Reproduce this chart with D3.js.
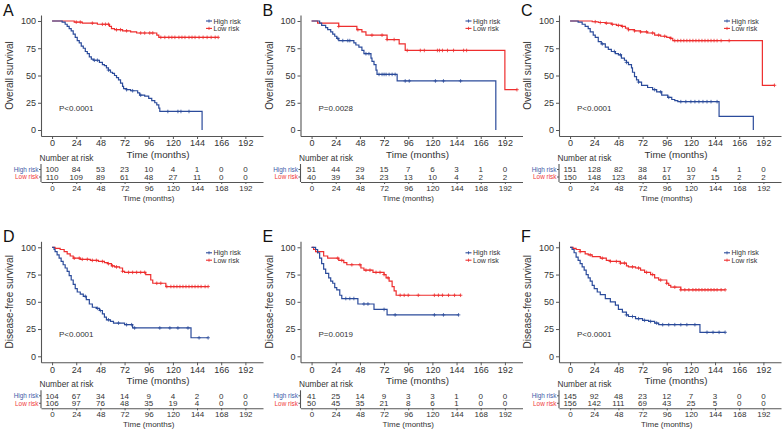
<!DOCTYPE html>
<html><head><meta charset="utf-8">
<script src="https://cdn.jsdelivr.net/npm/d3@7"></script>
<style>body{margin:0;background:#fff}svg{display:block;font-family:"Liberation Sans",Arial,Helvetica,sans-serif}</style>
</head><body><svg id="c" width="784" height="429"></svg>
<script>
// ---------- shared tick data ----------
const monthTicks = [0,24,48,72,96,120,144,168,192];
const plotTickLabels = ["0","24","48","72","96","120","144","166","192"];
const tableTickLabels = ["0","24","48","72","96","120","144","168","192"];
const survTicks = [0,25,50,75,100];
const groupNames = ["High risk","Low risk"];

// ---------- Panel A: overall survival ----------
const aHigh = [[0,100],[10,99],[13,97],[15,95],[17,93],[19,91],[21,88],[23,85],[25,82],[27,80],[29,77],[31,75],[33,72],[35,70],[37,67],[39,65],[41,64],[47,62],[50,60],[52,59],[54,57],[56,55],[58,53],[60,52],[62,50],[64,48],[66,46],[68,43],[70,40],[71,38],[74,37],[78,36],[85,34],[87,32],[92,31],[96,29],[99,27],[102,25],[104,23],[106,20],[107,17],[149,0]];
const aHighEnd = 149;
const aHighCens = [42,45,56,74,80,88,115,125,128,136];
const aLow = [[0,100],[22,99],[30,98],[45,97],[57,95],[59,93],[62,92],[70,91],[78,90],[84,89],[104,87],[106,85]];
const aLowEnd = 165;
const aLowCens = [24,28,40,50,53,56,64,68,74,88,92,97,100,108,112,116,119,122,126,129,132,136,139,142,146,150,154,158,162,165];
const aRiskHigh = [100,84,53,23,10,4,1,0,0];
const aRiskLow = [110,109,89,61,48,27,11,0,0];

// ---------- Panel B ----------
const bHigh = [[0,100],[8,98],[10,96],[14,94],[16,92],[19,90],[21,88],[23,86],[25,84],[27,82],[42,80],[44,78],[47,76],[50,73],[52,70],[59,66],[60,63],[62,60],[64,55],[65,51],[85,45],[183,0]];
const bHighEnd = 183;
const bHighCens = [26,31,36,38,54,57,67,70,72,74,77,80,83,93,97,123,131,148];
const bLow = [[0,100],[6,98],[27,95],[45,92],[50,90],[54,87],[75,83],[87,79],[93,73],[192,37]];
const bLowEnd = 204;
const bLowCens = [27,46,60,70,75,82,95,108,112,125,127,130,135,141,151,154,204];
const bRiskHigh = [51,44,29,15,7,6,3,1,0];
const bRiskLow = [40,39,34,23,13,10,4,2,2];

// ---------- Panel C ----------
const cHigh = [[0,100],[8,99],[12,97],[15,95],[18,93],[20,90],[23,87],[25,85],[28,81],[31,79],[35,76],[38,74],[41,72],[45,70],[48,69],[51,66],[54,64],[56,62],[58,60],[61,57],[62,53],[64,49],[66,46],[68,44],[71,41],[77,39],[82,37],[86,35],[91,32],[97,30],[101,28],[104,27],[107,26],[148,12.5],[182,0]];
const cHighEnd = 182;
const cHighCens = [32,44,50,56,68,84,90,98,110,115,120,124,128,132,136,140,146];
const cLow = [[0,100],[22,99.3],[28,98.6],[35,98],[41,97],[46,96],[51,95],[55,93.5],[58,92],[64,91],[70,90],[77,89],[84,87],[90,86],[96,85],[100,84],[102,82],[191,41]];
const cLowEnd = 203;
const cLowCens = [25,30,36,42,48,52,58,64,70,76,82,88,94,100,104,107,110,113,116,119,122,125,128,131,134,137,140,143,146,150,158,203];
const cRiskHigh = [151,128,82,38,17,10,4,1,0];
const cRiskLow = [150,148,123,84,61,37,15,2,2];

// ---------- Panel D: disease-free survival ----------
const dHigh = [[0,100],[2,98],[3,96],[5,93],[7,90],[9,87],[11,84],[13,81],[15,78],[17,74],[19,70],[21,66],[23,62],[25,59],[28,57],[31,55],[34,52],[37,48],[40,45],[44,44],[47,42],[50,39],[52,36],[54,33.5],[58,32],[61,30.5],[72,29],[80,26],[138,17]];
const dHighEnd = 155;
const dHighCens = [33,45,48,56,66,74,79,82,107,117,125,135,146,155];
const dLow = [[0,100],[3,99],[8,98],[12,96],[15,94],[18,92],[21,90],[28,89],[38,88],[46,87],[52,86],[55,85],[59,83],[62,82],[67,81],[70,78],[72,77],[93,75],[98,70],[100,67],[113,64]];
const dLowEnd = 155;
const dLowCens = [22,27,30,35,40,44,50,56,60,64,70,76,80,84,88,92,104,108,114,118,121,124,127,130,133,136,139,142,145,148,152,155];
const dRiskHigh = [104,67,34,14,9,4,2,0,0];
const dRiskLow = [106,97,76,48,35,19,4,0,0];

// ---------- Panel E ----------
const eHigh = [[0,100],[4,98],[6,95],[8,90],[10,85],[12,80],[14,76],[17,72],[19,69],[21,67],[23,63],[25,61],[28,56],[30,53],[46,48],[62,43],[75,38]];
const eHighEnd = 146;
const eHighCens = [34,38,42,52,56,72,83,122,131,146];
const eLow = [[0,100],[2,98],[4,96],[12,92],[16,90],[27,88],[32,86],[35,84],[49,81],[52,79],[61,77],[72,75],[74,72],[77,69],[80,64],[82,60],[84,56]];
const eLowEnd = 148;
const eLowCens = [6,26,30,40,48,54,58,64,68,72,76,88,92,96,106,122,126,130,136,142,148];
const eRiskHigh = [41,25,14,9,3,3,1,0,0];
const eRiskLow = [50,45,35,21,8,6,1,0,0];

// ---------- Panel F ----------
const fHigh = [[0,100],[2,98],[4,95],[6,91],[8,88],[10,85],[12,82],[14,79],[16,75],[18,72],[20,69],[22,65],[24,62],[27,59],[30,56.5],[35,53],[40,50],[45,47],[48,43],[52,40.5],[56,38],[58,36.5],[65,34.5],[72,33],[78,32],[84,30.5],[88,29],[129,22]];
const fHighEnd = 154;
const fHighCens = [56,62,68,74,80,86,92,98,104,110,116,124,136,142,148,154];
const fLow = [[0,100],[3,99],[6,98],[10,96],[15,94],[18,93],[22,91.5],[30,90],[36,88],[40,87],[50,85.5],[56,83],[58,82],[65,81],[70,79],[74,77],[80,75],[84,72],[88,70],[96,67],[98,65],[100,63.5],[110,61]];
const fLowEnd = 154;
const fLowCens = [10,20,32,40,46,50,54,62,68,76,82,90,96,104,110,114,118,122,125,128,131,134,137,140,143,146,150,154];
const fRiskHigh = [145,92,48,23,12,7,3,0,0];
const fRiskLow = [156,142,111,69,43,25,5,0,0];

// ---------- panel table ----------
const panels = [
  {letter:"A", ylab:"Overall survival", p:"P<0.0001", hi:aHigh, hiEnd:aHighEnd, hiC:aHighCens, lo:aLow, loEnd:aLowEnd, loC:aLowCens, rh:aRiskHigh, rl:aRiskLow},
  {letter:"B", ylab:"Overall survival", p:"P=0.0028", hi:bHigh, hiEnd:bHighEnd, hiC:bHighCens, lo:bLow, loEnd:bLowEnd, loC:bLowCens, rh:bRiskHigh, rl:bRiskLow},
  {letter:"C", ylab:"Overall survival", p:"P<0.0001", hi:cHigh, hiEnd:cHighEnd, hiC:cHighCens, lo:cLow, loEnd:cLowEnd, loC:cLowCens, rh:cRiskHigh, rl:cRiskLow},
  {letter:"D", ylab:"Disease-free survival", p:"P<0.0001", hi:dHigh, hiEnd:dHighEnd, hiC:dHighCens, lo:dLow, loEnd:dLowEnd, loC:dLowCens, rh:dRiskHigh, rl:dRiskLow},
  {letter:"E", ylab:"Disease-free survival", p:"P=0.0019", hi:eHigh, hiEnd:eHighEnd, hiC:eHighCens, lo:eLow, loEnd:eLowEnd, loC:eLowCens, rh:eRiskHigh, rl:eRiskLow},
  {letter:"F", ylab:"Disease-free survival", p:"P<0.0001", hi:fHigh, hiEnd:fHighEnd, hiC:fHighCens, lo:fLow, loEnd:fLowEnd, loC:fLowCens, rh:fRiskHigh, rl:fRiskLow}
];

const BLUE = "#2b4b9b", RED = "#ee2e2e";
const LBLUE = "#3d5ca8", LRED = "#f03a3a";
const AXC = "#555", TXC = "#333";
const svg = d3.select("#c");

function survAt(pts, t){ let s = pts[0][1]; for (const d of pts){ if (d[0] <= t) s = d[1]; } return s; }

function drawPanel(p, i){
  const col = i % 3, row = Math.floor(i / 3);
  const ax = [41, 300.5, 559][col];
  const dy = row * 226.3;
  const g = svg.append("g");
  const x = d3.scaleLinear().domain([-11, 209.5]).range([ax, ax + 222]);
  const y = d3.scaleLinear().domain([-5.5, 105.5]).range([136 + dy, 15 + dy]);

  // letter
  g.append("text").attr("x", ax - 38).attr("y", 16 + dy).attr("font-size", 16).attr("fill", "#111").text(p.letter);

  // y axis
  const ya = g.append("g").attr("transform", `translate(${ax},0)`)
    .call(d3.axisLeft(y).tickValues(survTicks).tickSize(3).tickSizeOuter(0).tickPadding(2));
  // x axis
  const xa = g.append("g").attr("transform", `translate(0,${136 + dy})`)
    .call(d3.axisBottom(x).tickValues(monthTicks).tickFormat((d, k) => plotTickLabels[k]).tickSize(3).tickSizeOuter(0).tickPadding(1));
  [ya, xa].forEach(a => {
    a.attr("font-family", null);
    a.select(".domain").attr("stroke", AXC).attr("stroke-width", 1.1);
    a.selectAll(".tick line").attr("stroke", AXC);
    a.selectAll(".tick text").attr("font-size", 9).attr("fill", TXC);
  });

  g.append("text").attr("transform", `translate(${ax - 28},${75.5 + dy}) rotate(-90)`)
    .attr("text-anchor", "middle").attr("font-size", 10).attr("fill", TXC).text(p.ylab);
  g.append("text").attr("x", ax + 117).attr("y", 157.5 + dy).attr("text-anchor", "middle")
    .attr("font-size", 9.8).attr("fill", TXC).text("Time (months)");

  // curves
  const line = d3.line().x(d => x(d[0])).y(d => y(d[1])).curve(d3.curveStepAfter);
  const curves = [[p.lo, p.loEnd, p.loC, RED], [p.hi, p.hiEnd, p.hiC, BLUE]];
  curves.forEach(([pts, end, cens, color]) => {
    const full = pts.concat([[end, pts[pts.length - 1][1]]]);
    g.append("path").attr("d", line(full)).attr("fill", "none").attr("stroke", color).attr("stroke-width", 1.2);
    const cg = g.append("g").attr("stroke", color).attr("stroke-width", 0.8);
    cens.forEach(t => {
      const cx = x(t), cy = y(survAt(pts, t));
      cg.append("line").attr("x1", cx - 1.8).attr("x2", cx + 1.8).attr("y1", cy).attr("y2", cy);
      cg.append("line").attr("x1", cx).attr("x2", cx).attr("y1", cy - 1.8).attr("y2", cy + 1.8);
    });
  });

  // p value
  g.append("text").attr("x", ax + 18).attr("y", 111 + dy).attr("font-size", 8).attr("fill", TXC).text(p.p);

  // legend
  const ly = row === 0 ? 21 : 252.8;
  [[BLUE, groupNames[0]], [RED, groupNames[1]]].forEach(([c, name], k) => {
    const yy = ly + k * 7.4;
    g.append("line").attr("x1", ax + 165).attr("x2", ax + 171).attr("y1", yy).attr("y2", yy).attr("stroke", c).attr("stroke-width", 1.1);
    g.append("line").attr("x1", ax + 168).attr("x2", ax + 168).attr("y1", yy - 1.6).attr("y2", yy + 1.6).attr("stroke", c).attr("stroke-width", 0.8);
    g.append("text").attr("x", ax + 172.5).attr("y", yy + 2.5).attr("font-size", 7).attr("fill", TXC).text(name);
  });

  // risk table
  g.append("text").attr("x", ax - 1.5).attr("y", 160.5 + dy).attr("font-size", 8.3).attr("fill", TXC).text("Number at risk");
  const rowY = [169.5 + dy, 177 + dy];
  const ta = g.append("g").attr("transform", `translate(0,${182 + dy})`)
    .call(d3.axisBottom(x).tickValues(monthTicks).tickFormat((d, k) => tableTickLabels[k]).tickSize(2).tickSizeOuter(0).tickPadding(1.5));
  ta.attr("font-family", null);
  ta.select(".domain").attr("stroke", AXC).attr("stroke-width", 1.1);
  ta.selectAll(".tick line").attr("stroke", AXC);
  ta.selectAll(".tick text").attr("font-size", 8).attr("fill", TXC);
  g.append("line").attr("x1", ax).attr("x2", ax).attr("y1", 164 + dy).attr("y2", 182 + dy).attr("stroke", AXC).attr("stroke-width", 1.1);
  [[p.rh, LBLUE, groupNames[0]], [p.rl, LRED, groupNames[1]]].forEach(([vals, c, name], k) => {
    const yy = rowY[k];
    g.append("line").attr("x1", ax - 2).attr("x2", ax).attr("y1", yy).attr("y2", yy).attr("stroke", AXC);
    g.append("text").attr("x", ax - 2.5).attr("y", yy + 2.2).attr("text-anchor", "end").attr("font-size", 6.4).attr("fill", c).text(name);
    vals.forEach((v, j) => {
      g.append("text").attr("x", x(monthTicks[j])).attr("y", yy + 2.8).attr("text-anchor", "middle")
        .attr("font-size", 8).attr("fill", TXC).text(v);
    });
  });
  g.append("text").attr("x", x(96)).attr("y", 201 + dy).attr("text-anchor", "middle")
    .attr("font-size", 8).attr("fill", TXC).text("Time (months)");
}

panels.forEach(drawPanel);
</script></body></html>
